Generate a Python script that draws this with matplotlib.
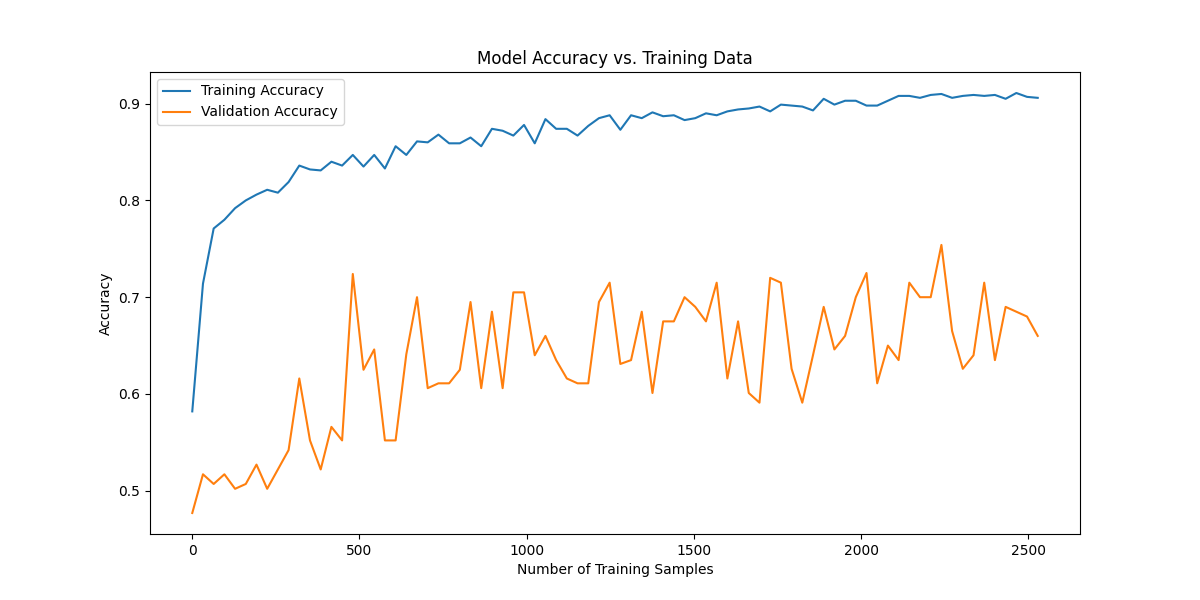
import matplotlib
matplotlib.use("Agg")
import matplotlib.pyplot as plt

# training set sizes (step of 32 samples)
train_sizes = [
    0, 32, 64, 96, 128, 160, 192, 224, 256, 288,
    320, 352, 384, 416, 448, 480, 512, 544, 576, 608,
    640, 672, 704, 736, 768, 800, 832, 864, 896, 928,
    960, 992, 1024, 1056, 1088, 1120, 1152, 1184, 1216, 1248,
    1280, 1312, 1344, 1376, 1408, 1440, 1472, 1504, 1536, 1568,
    1600, 1632, 1664, 1696, 1728, 1760, 1792, 1824, 1856, 1888,
    1920, 1952, 1984, 2016, 2048, 2080, 2112, 2144, 2176, 2208,
    2240, 2272, 2304, 2336, 2368, 2400, 2432, 2464, 2496, 2528,
]

train_acc = [
    0.582, 0.714, 0.771, 0.780, 0.792, 0.800, 0.806, 0.811, 0.808, 0.819,
    0.836, 0.832, 0.831, 0.840, 0.836, 0.847, 0.835, 0.847, 0.833, 0.856,
    0.847, 0.861, 0.860, 0.868, 0.859, 0.859, 0.865, 0.856, 0.874, 0.872,
    0.867, 0.878, 0.859, 0.884, 0.874, 0.874, 0.867, 0.877, 0.885, 0.888,
    0.873, 0.888, 0.885, 0.891, 0.887, 0.888, 0.883, 0.885, 0.890, 0.888,
    0.892, 0.894, 0.895, 0.897, 0.892, 0.899, 0.898, 0.897, 0.893, 0.905,
    0.899, 0.903, 0.903, 0.898, 0.898, 0.903, 0.908, 0.908, 0.906, 0.909,
    0.910, 0.906, 0.908, 0.909, 0.908, 0.909, 0.905, 0.911, 0.907, 0.906,
]

val_acc = [
    0.477, 0.517, 0.507, 0.517, 0.502, 0.507, 0.527, 0.502, 0.522, 0.542,
    0.616, 0.552, 0.522, 0.566, 0.552, 0.724, 0.625, 0.646, 0.552, 0.552,
    0.641, 0.700, 0.606, 0.611, 0.611, 0.625, 0.695, 0.606, 0.685, 0.606,
    0.705, 0.705, 0.640, 0.660, 0.635, 0.616, 0.611, 0.611, 0.695, 0.715,
    0.631, 0.635, 0.685, 0.601, 0.675, 0.675, 0.700, 0.690, 0.675, 0.715,
    0.616, 0.675, 0.601, 0.591, 0.720, 0.715, 0.626, 0.591, 0.640, 0.690,
    0.646, 0.660, 0.700, 0.725, 0.611, 0.650, 0.635, 0.715, 0.700, 0.700,
    0.754, 0.665, 0.626, 0.640, 0.715, 0.635, 0.690, 0.685, 0.680, 0.660,
]

fig, ax = plt.subplots(figsize=(12, 6), dpi=100)
ax.plot(train_sizes, train_acc, label="Training Accuracy")
ax.plot(train_sizes, val_acc, label="Validation Accuracy")
ax.set_title("Model Accuracy vs. Training Data")
ax.set_xlabel("Number of Training Samples")
ax.set_ylabel("Accuracy")
ax.legend(loc="upper left")
fig.savefig("out.png", dpi=100)
